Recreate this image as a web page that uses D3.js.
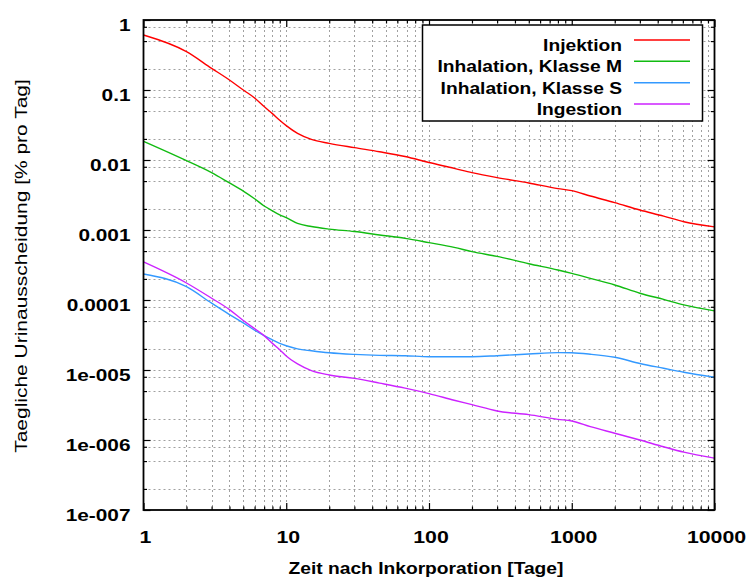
<!DOCTYPE html>
<html><head><meta charset="utf-8">
<script src="https://cdnjs.cloudflare.com/ajax/libs/d3/7.8.5/d3.min.js"></script>
<style>
html,body{margin:0;padding:0;background:#fff;}
svg{display:block;}
text{font-family:"Liberation Sans",Arial,sans-serif;fill:#000;}
</style></head>
<body>
<svg id="chart" width="749" height="577"></svg>
<script>
const days = [1,2,3,4,5,6,7,8,9,10,12,15,20,30,45,68,100,150,200,300,500,800,1000,1350,2000,3000,4400,6100,10000];
const injektion = [0.61,0.353,0.204,0.139,0.1,0.077,0.058,0.046,0.037,0.031,0.024,0.0197,0.0173,0.015,0.0131,0.0112,0.0092,0.0076,0.0066,0.0056,0.0047,0.0039,0.00365,0.00306,0.00246,0.00193,0.00158,0.00131,0.00111];
const inhalationM = [0.0185,0.0098,0.0066,0.0047,0.0036,0.0028,0.0022,0.00188,0.00165,0.0015,0.00124,0.00112,0.00103,0.00095,0.00085,0.00076,0.00066,0.000565,0.00049,0.00042,0.00033,0.000268,0.00024,0.000204,0.000164,0.000125,0.000102,0.000085,0.00007];
const inhalationS = [0.000235,0.000155,0.00009,0.000062,0.000047,0.000037,0.000031,0.000027,0.000024,0.0000222,0.00002,0.0000188,0.0000176,0.0000167,0.0000162,0.000016,0.0000155,0.0000155,0.0000155,0.000016,0.0000169,0.0000177,0.0000176,0.0000168,0.0000152,0.0000124,0.0000106,0.0000093,0.0000079];
const ingestion = [0.00035,0.000175,0.000106,0.000073,0.000051,0.000039,0.000031,0.000024,0.0000195,0.0000158,0.0000122,0.0000098,0.0000085,0.0000076,0.0000065,0.0000055,0.0000046,0.0000037,0.0000032,0.0000026,0.0000023,0.00000197,0.00000187,0.00000155,0.00000125,0.000001,0.0000008,0.00000067,0.00000055];
const seriesNames = ["Injektion","Inhalation, Klasse M","Inhalation, Klasse S","Ingestion"];
const seriesColors = ["#ff0000","#11bb11","#3399ff","#cc22ff"];
const xTickValues = [1,10,100,1000,10000];
const xTickLabels = ["1","10","100","1000","10000"];
const yTickValues = [1,0.1,0.01,0.001,0.0001,1e-5,1e-6,1e-7];
const yTickLabels = ["1","0.1","0.01","0.001","0.0001","1e-005","1e-006","1e-007"];
const xTitle = "Zeit nach Inkorporation [Tage]";
const yTitle = "Taegliche Urinausscheidung [% pro Tag]";

const allSeries = [injektion, inhalationM, inhalationS, ingestion];
const svg = d3.select("#chart");
const L = 143.5, R = 714.5, T = 20, B = 510;
const x = d3.scaleLog().domain([1,10000]).range([L,R]);
const y = d3.scaleLog().domain([1e-7,1]).range([B,T]);

function stretch(sel, f){
  sel.each(function(){
    const w = this.getComputedTextLength();
    d3.select(this).attr("textLength", w*f).attr("lengthAdjust","spacingAndGlyphs");
  });
}

const xMinor = [];
for (let e=0;e<4;e++) for (let m=2;m<=9;m++) xMinor.push(m*Math.pow(10,e));
const yMinor = [];
for (let e=-7;e<0;e++) for (const m of [2,5,8]) yMinor.push(m*Math.pow(10,e));

const grid = svg.append("g").attr("stroke","#a0a0a0").attr("stroke-width",1).attr("stroke-dasharray","2,3");
grid.selectAll("line.vx").data(xMinor.concat([10,100,1000])).join("line")
  .attr("x1",d=>Math.round(x(d))+0.5).attr("x2",d=>Math.round(x(d))+0.5).attr("y1",T).attr("y2",B);
grid.selectAll("line.hy").data(yMinor.concat(yTickValues.slice(1,-1))).join("line")
  .attr("y1",d=>Math.round(y(d))+0.5).attr("y2",d=>Math.round(y(d))+0.5).attr("x1",L).attr("x2",R);

const axB = d3.axisBottom(x).tickValues(xTickValues).tickFormat(()=>"").tickSizeInner(-7).tickSizeOuter(0);
const axBm = d3.axisBottom(x).tickValues(xMinor).tickFormat(()=>"").tickSizeInner(-3.5).tickSizeOuter(0);
const axT = d3.axisTop(x).tickValues(xTickValues).tickFormat(()=>"").tickSizeInner(-7).tickSizeOuter(0);
const axTm = d3.axisTop(x).tickValues(xMinor).tickFormat(()=>"").tickSizeInner(-3.5).tickSizeOuter(0);
const axL = d3.axisLeft(y).tickValues(yTickValues).tickFormat(()=>"").tickSizeInner(-7).tickSizeOuter(0);
const axLm = d3.axisLeft(y).tickValues(yMinor).tickFormat(()=>"").tickSizeInner(-3.5).tickSizeOuter(0);
const axR = d3.axisRight(y).tickValues(yTickValues).tickFormat(()=>"").tickSizeInner(-7).tickSizeOuter(0);
const axRm = d3.axisRight(y).tickValues(yMinor).tickFormat(()=>"").tickSizeInner(-3.5).tickSizeOuter(0);
[[axB,`translate(0,${B})`],[axBm,`translate(0,${B})`],[axT,`translate(0,${T})`],[axTm,`translate(0,${T})`],
 [axL,`translate(${L},0)`],[axLm,`translate(${L},0)`],[axR,`translate(${R},0)`],[axRm,`translate(${R},0)`]].forEach(([a,t])=>{
  const g = svg.append("g").attr("transform",t).call(a);
  g.select(".domain").remove();
  g.selectAll("line").attr("stroke","#000").attr("stroke-width",1.2);
});

const line = d3.line().x((d,i)=>x(days[i])).y(d=>y(d)).curve(d3.curveMonotoneX);
svg.append("g").selectAll("path").data(allSeries).join("path")
  .attr("d",d=>line(d)).attr("fill","none").attr("stroke",(d,i)=>seriesColors[i]).attr("stroke-width",1.4);

svg.append("rect").attr("x",L).attr("y",T).attr("width",R-L).attr("height",B-T)
  .attr("fill","none").attr("stroke","#000").attr("stroke-width",1.8);

const yl = svg.append("g").selectAll("text").data(yTickValues).join("text")
  .attr("x",L-13).attr("y",d=>y(d)+11).attr("text-anchor","end")
  .attr("font-size",16).attr("font-weight","bold").text((d,i)=>yTickLabels[i]);
stretch(yl,1.3);
const xl = svg.append("g").selectAll("text").data(xTickValues).join("text")
  .attr("x",d=>x(d)+2).attr("y",B+33).attr("text-anchor","middle")
  .attr("font-size",16).attr("font-weight","bold").text((d,i)=>xTickLabels[i]);
stretch(xl,1.33);

const xt = svg.append("text").attr("x",(L+R)/2-3).attr("y",574).attr("text-anchor","middle")
  .attr("font-size",16).attr("font-weight","bold").text(xTitle);
stretch(xt,1.2);
const yt = svg.append("text").attr("transform",`translate(27,${(T+B)/2+1}) rotate(-90)`).attr("text-anchor","middle")
  .attr("font-size",16).text(yTitle);
stretch(yt,1.31);

const lg = svg.append("g");
lg.append("rect").attr("x",422.5).attr("y",25).attr("width",280).attr("height",96)
  .attr("fill","#fff").attr("stroke","#000").attr("stroke-width",1.5);
const rowY = [40,61.3,82.7,104];
const lt = lg.selectAll("text").data(seriesNames).join("text")
  .attr("x",622).attr("y",(d,i)=>rowY[i]+11).attr("text-anchor","end")
  .attr("font-size",16).attr("font-weight","bold").text(d=>d);
stretch(lt,1.2);
lg.selectAll("line").data(seriesNames).join("line")
  .attr("x1",634).attr("x2",690).attr("y1",(d,i)=>rowY[i]).attr("y2",(d,i)=>rowY[i])
  .attr("stroke",(d,i)=>seriesColors[i]).attr("stroke-width",1.5);
</script>
</body></html>
